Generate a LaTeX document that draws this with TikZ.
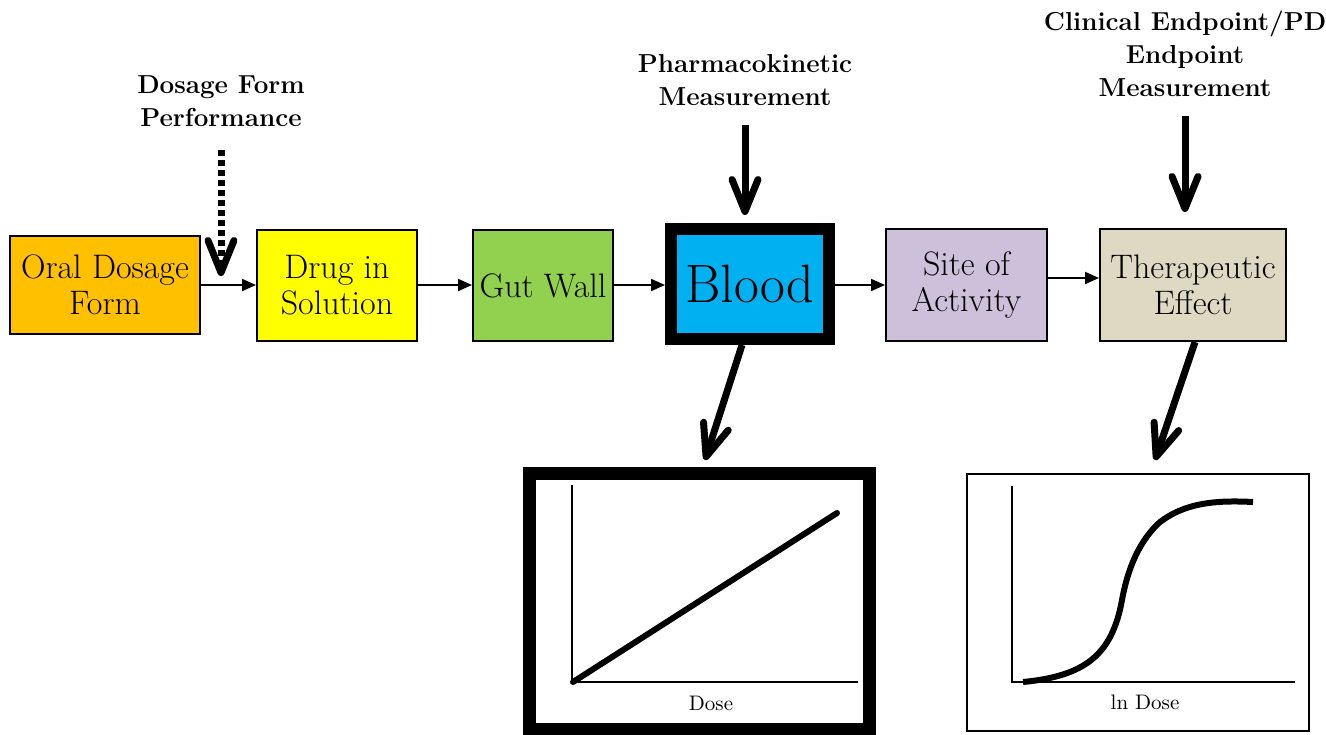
\documentclass[tikz,border=0pt]{standalone}
\usepackage{tikz}
\usetikzlibrary{arrows.meta}
\definecolor{doseorange}{HTML}{FFC000}
\definecolor{solyellow}{HTML}{FFFF00}
\definecolor{gutgreen}{HTML}{92D050}
\definecolor{bloodblue}{HTML}{00B0F0}
\definecolor{sitelilac}{HTML}{CCC0DA}
\definecolor{effecttan}{HTML}{DDD9C3}

\begin{document}
\begin{tikzpicture}[x=0.5pt, y=-0.5pt,
    stage/.style={draw, line width=1pt, align=center, inner sep=1pt,
      font=\fontsize{17}{18}\selectfont},
    measure/.style={align=center, font=\bfseries\fontsize{13}{16.5}\selectfont},
    flow/.style={-{Triangle[length=7pt, width=6pt]}, line width=1pt},
    probe/.style={-{Straight Barb[length=16pt, width=13pt, line width=3.5pt, round]},
      line width=3.5pt},
    axis/.style={line width=0.75pt},
    curve/.style={line width=3pt}]
      \useasboundingbox (0,0) rectangle (1326,734);
      % Stages of the pathway
      \node[stage, fill=doseorange, minimum width=95pt, minimum height=49pt] (oral) at (105,285) {Oral Dosage\\Form};
      \node[stage, fill=solyellow, minimum width=80pt, minimum height=55.5pt] (drug) at (337,285.5) {Drug in\\Solution};
      \node[stage, fill=gutgreen, minimum width=70pt, minimum height=55.5pt] (gut) at (543,285.5) {Gut Wall};
      \node[stage, fill=bloodblue, line width=6pt, minimum width=79pt, minimum height=55pt,
        font=\fontsize{27}{30}\selectfont] (blood) at (750,284) {Blood};
      \node[stage, fill=sitelilac, minimum width=80.5pt, minimum height=56pt] (site) at (966.5,285) {Site of\\Activity};
      \node[stage, fill=effecttan, minimum width=93pt, minimum height=56pt] (ther) at (1193,285) {Therapeutic\\Effect};
      % Flow between the stages
      \draw[flow] (oral.east) -- (oral.east -| drug.west);
      \draw[flow] (drug.east |- oral.east) -- (oral.east -| gut.west);
      \draw[flow] (gut.east |- oral.east) -- (oral.east -| blood.west);
      \draw[flow] (blood.east |- oral.east) -- (oral.east -| site.west);
      \draw[flow] ([yshift=3.5pt]site.east) -- ([yshift=3.5pt]site.east -| ther.west);
      % Measurements
      \node[measure] (dfp) at (221,101) {Dosage Form\\Performance};
      \coordinate (dfptip) at (221,276);
      \draw[probe, dash pattern=on 3pt off 2pt, shorten <=8pt] (dfp) -- (dfptip);
      \node[measure] (pk) at (745,80) {Pharmacokinetic\\Measurement};
      \draw[probe, shorten <=6pt, shorten >=4pt] (pk) -- (pk |- blood.north);
      \node[measure] (clin) at (1185,54) {Clinical Endpoint/PD\\Endpoint\\Measurement};
      \draw[probe, shorten <=6pt, shorten >=8pt] (clin) -- (clin |- ther.north);
      % Arrows down to the plots
      \coordinate (pktip) at (705,460);
      \coordinate (pdtip) at (1155,460);
      \draw[probe] ([xshift=-4pt]blood.south) -- (pktip);
      \draw[probe] ([xshift=1pt]ther.south) -- (pdtip);
      % Plot: exposure vs dose
      \node[draw, line width=6.5pt, minimum width=170pt, minimum height=128pt] (pkplot) at (699,601.5) {};
      \draw[axis] (572,485) -- (572,682) -- (858,682);
      \draw[curve, line cap=round] (573,682) -- (837,513);
      \node[font=\fontsize{10.5}{12}\selectfont] (dose) at (711,703) {Dose};
      % Plot: response vs ln dose
      \node[draw, line width=0.75pt, minimum width=171pt, minimum height=128.5pt] (pdplot) at (1138,602.5) {};
      \draw[axis] (1012,486) -- (1012,682) -- (1295,682);
      \draw[curve] (1023,682) .. controls (1085,676) and (1112,655) .. (1122,600)
        .. controls (1128,567) and (1140,540) .. (1160,522)
        .. controls (1185,503) and (1215,500) .. (1253,502);
      \node[font=\fontsize{10.5}{12}\selectfont] (lndose) at (1145,702) {ln Dose};
\end{tikzpicture}
\end{document}
